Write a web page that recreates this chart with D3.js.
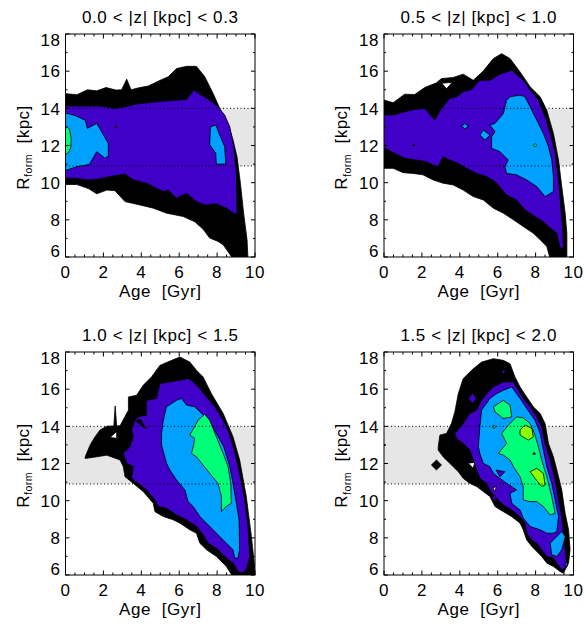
<!DOCTYPE html>
<html><head><meta charset="utf-8">
<script src="https://cdn.jsdelivr.net/npm/d3@7"></script>
<style>
body{margin:0;background:#fff}
text{font-family:"Liberation Sans",Arial,Helvetica,sans-serif;fill:#000;white-space:pre}
</style></head><body>
<svg id="c" width="587" height="626"></svg>
<script>
// ---------- axes / labels ----------
const xTicks = [0, 2, 4, 6, 8, 10];
const yTicks = [6, 8, 10, 12, 14, 16, 18];
const xDomain = [0, 10];
const yDomain = [6, 18];
const titles = ["0.0 < |z| [kpc] < 0.3", "0.5 < |z| [kpc] < 1.0", "1.0 < |z| [kpc] < 1.5", "1.5 < |z| [kpc] < 2.0"];
const xLabel = "Age  [Gyr]";
const band = [10.9, 14];
// level: -1 = hole(white), 0 black, 1 purple, 2 blue, 3 green, 4 yellow-green
const levelColors = {"-1": "#ffffff", "0": "#000000", "1": "#4000c8", "2": "#00a0ff", "3": "#00ff78", "4": "#8cff00"};

// ---------- panel 1 contours [age, Rform] ----------
const p1Black = [[-0.1,14.8],[0.6,14.73],[1.16,15.0],[1.65,14.94],[2.14,15.12],[2.67,14.98],[2.96,15.0],[3.23,15.57],[3.46,15.0],[3.93,15.12],[4.37,15.2],[4.89,15.46],[5.42,15.7],[5.86,16.14],[6.39,16.26],[6.91,16.26],[7.35,15.7],[7.79,14.8],[8.14,14.0],[8.58,13.19],[8.84,12.3],[9.05,11.4],[9.23,9.97],[9.4,8.36],[9.58,6.93],[9.63,5.9],[8.84,5.9],[8.32,6.66],[8.05,6.84],[7.61,7.02],[7.26,7.5],[6.82,7.9],[6.21,8.18],[5.33,8.36],[4.63,8.63],[3.93,8.8],[3.14,8.98],[2.61,9.57],[2.18,9.6],[1.65,9.4],[1.21,9.68],[0.6,9.9],[-0.1,9.9]];
const p1Purple = [[-0.1,14.12],[1.82,14.12],[2.61,13.99],[3.14,14.08],[3.75,14.23],[4.8,14.35],[5.86,14.44],[6.39,14.48],[6.77,14.98],[7.09,14.76],[7.61,14.44],[8.05,14.08],[8.4,13.64],[8.67,13.0],[8.88,11.94],[9.02,10.5],[9.05,8.36],[8.93,8.32],[8.49,8.63],[7.96,8.86],[7.35,8.8],[6.91,8.98],[6.39,9.43],[5.86,9.16],[5.42,9.6],[5.16,9.52],[4.8,9.7],[4.28,9.97],[3.58,10.15],[3.14,10.47],[2.35,10.33],[1.65,10.18],[1.12,10.15],[0.6,10.24],[-0.1,10.24]];
const p1BlueL = [[-0.1,13.76],[0.5,13.62],[1.05,13.35],[1.15,12.92],[1.65,13.19],[2.26,12.11],[2.26,11.45],[2.09,11.31],[1.65,11.67],[1.25,10.98],[0.6,10.86],[-0.1,10.62]];
const p1BlueR = [[7.65,13.0],[7.93,13.1],[8.1,12.65],[8.4,11.94],[8.46,11.0],[7.96,11.0],[7.93,11.58],[7.61,12.03]];
const p1Green = [[-0.1,13.1],[0.2,12.9],[0.3,12.4],[0.28,11.9],[0.15,11.6],[-0.1,11.45]];
const p1Dot = [[2.62,13.04],[2.7,13.04],[2.7,12.96],[2.62,12.96]];

// ---------- panel 2 ----------
const p2Black = [[-0.1,14.48],[0.48,14.3],[1.09,14.76],[1.62,14.74],[2.15,15.12],[2.77,15.37],[3.03,15.6],[3.65,15.66],[4.18,15.84],[4.71,15.51],[5.24,16.01],[5.77,16.68],[6.21,16.94],[6.65,16.68],[7.18,15.96],[7.71,15.16],[8.24,14.62],[8.59,13.9],[8.94,12.65],[9.21,11.22],[9.38,9.79],[9.56,8.36],[9.65,7.28],[9.65,5.9],[8.77,5.9],[8.59,6.57],[8.24,6.93],[7.88,7.28],[7.35,7.64],[6.83,8.0],[6.3,8.36],[5.77,8.63],[5.24,9.07],[4.71,9.25],[4.18,9.6],[3.65,9.88],[3.12,9.97],[2.59,10.15],[2.06,10.42],[1.53,10.5],[1.01,10.54],[0.48,10.77],[-0.1,10.77]];
const p2Hole = [[3.05,15.35],[3.6,15.4],[3.3,15.05]];
const p2Purple = [[-0.1,13.64],[0.48,13.64],[1.09,13.81],[1.62,13.94],[2.15,13.99],[2.68,13.37],[3.03,13.99],[3.47,14.53],[3.83,14.62],[4.18,14.89],[4.62,15.01],[5.06,15.51],[5.59,15.51],[6.12,15.84],[6.74,16.05],[7.35,15.51],[7.71,14.98],[8.15,14.44],[8.5,13.55],[8.77,12.65],[9.03,11.58],[9.21,10.15],[9.33,8.72],[9.44,7.28],[9.47,6.48],[9.3,6.48],[9.12,7.28],[8.68,7.64],[8.41,7.91],[7.97,8.18],[7.44,8.54],[7.0,9.07],[6.47,9.34],[5.86,10.06],[5.41,10.33],[4.89,10.5],[4.36,10.77],[3.92,11.04],[3.47,11.22],[3.12,11.4],[2.86,10.86],[2.59,10.95],[2.24,11.13],[1.71,11.22],[1.09,11.31],[0.56,11.58],[-0.1,11.94]];
const p2Blue = [[6.65,14.62],[7.18,14.71],[7.44,14.62],[7.71,14.08],[8.06,13.37],[8.41,12.65],[8.68,11.94],[8.85,11.22],[8.94,10.33],[8.94,9.52],[8.5,9.25],[8.06,9.79],[7.53,10.15],[7.0,10.42],[6.47,10.5],[6.38,10.86],[6.56,11.22],[6.12,11.67],[5.68,11.85],[5.68,12.47],[5.86,12.74],[5.59,13.1],[5.86,13.19],[6.3,13.72],[6.47,14.44]];
const p2BlueDiamondA = [[4.1,13.04],[4.27,13.18],[4.45,13.04],[4.27,12.9]];
const p2BlueDiamondB = [[5.06,12.56],[5.24,12.83],[5.59,12.56],[5.33,12.29]];
const p2GreenDot = [[7.88,12.02],[7.97,12.11],[8.06,12.02],[7.97,11.93]];
const p2BlackDot = [[1.5,12.02],[1.57,12.07],[1.64,12.02],[1.57,11.97]];

// ---------- panel 3 ----------
const p3Black = [[1.04,12.36],[1.3,13.0],[1.56,13.44],[1.82,13.8],[2.18,14.01],[2.88,14.03],[3.32,14.87],[3.32,15.58],[3.75,15.67],[4.1,16.21],[4.54,16.66],[4.98,17.28],[5.6,17.55],[6.04,17.73],[6.56,17.46],[6.91,17.02],[7.26,16.66],[7.7,15.76],[8.32,14.69],[8.84,13.44],[9.19,12.19],[9.54,10.22],[9.81,8.07],[9.98,6.46],[10.0,5.9],[8.84,5.9],[8.49,6.46],[7.96,7.0],[7.44,7.36],[7.09,7.71],[6.91,8.25],[6.56,8.43],[6.04,8.79],[5.68,8.97],[5.16,9.15],[4.72,9.41],[4.63,9.86],[4.1,10.49],[3.58,10.93],[3.14,11.29],[3.05,11.83],[2.88,12.19],[2.18,12.45],[1.65,12.36],[1.04,12.27]];
const p3Spike = [[2.55,14.0],[2.62,15.1],[2.7,14.0],[2.65,13.7]];
const p3Hole = [[2.35,13.4],[2.7,13.72],[2.7,13.36]];
const p3Purple = [[3.67,14.33],[3.84,14.51],[4.28,14.6],[4.28,15.4],[4.8,15.5],[4.98,16.3],[5.51,16.39],[6.04,16.48],[6.47,16.57],[6.74,16.39],[7.09,16.03],[7.44,15.58],[7.88,15.05],[8.32,14.33],[8.67,13.53],[8.93,12.63],[9.19,11.47],[9.46,10.04],[9.63,8.61],[9.72,7.0],[9.54,6.28],[9.28,6.1],[9.12,6.19],[8.84,6.64],[8.49,6.91],[7.96,7.45],[7.53,7.71],[7.26,8.16],[6.91,8.61],[6.39,8.97],[5.86,9.23],[5.33,9.59],[4.89,9.68],[4.72,10.04],[4.28,10.58],[3.84,10.93],[3.49,11.2],[3.58,11.83],[3.23,12.01],[3.05,12.54],[3.4,12.9],[3.58,13.44],[3.49,13.8]];
const p3Tongue = [[3.7,14.3],[4.25,13.85],[3.95,14.4]];
const p3Blue = [[5.33,15.05],[5.86,15.4],[6.12,15.5],[6.39,15.14],[6.82,15.05],[7.18,14.69],[7.53,14.33],[7.96,13.62],[8.35,12.9],[8.67,11.83],[8.84,10.93],[9.02,9.86],[9.16,8.96],[9.19,7.36],[9.1,6.91],[8.93,6.91],[8.84,7.36],[8.49,7.71],[8.14,8.07],[7.79,8.43],[7.44,8.79],[7.09,9.15],[6.74,9.68],[6.47,9.95],[6.3,10.58],[5.86,11.11],[5.51,11.65],[5.33,12.01],[5.07,12.99],[5.07,13.62],[5.16,14.33]];
const p3Green = [[6.56,13.53],[7.0,14.33],[7.35,14.65],[7.61,14.33],[7.96,13.44],[8.32,12.54],[8.58,11.83],[8.72,10.93],[8.75,9.86],[8.49,9.7],[8.23,9.41],[8.23,10.22],[8.05,10.93],[7.61,11.47],[7.26,11.92],[6.91,12.36],[6.65,12.54],[6.74,12.9],[6.82,13.35]];

// ---------- panel 4 ----------
const p4Black = [[2.86,12.9],[2.95,13.53],[3.3,13.62],[3.56,14.15],[3.74,14.78],[3.92,15.76],[4.18,16.57],[4.36,16.75],[4.62,17.02],[5.15,17.46],[5.77,17.64],[6.3,17.55],[6.65,17.37],[6.91,16.66],[7.18,16.12],[7.53,15.58],[7.88,15.05],[8.24,14.69],[8.5,14.15],[8.68,13.08],[8.94,12.36],[9.12,11.65],[9.38,10.58],[9.56,9.32],[9.74,8.43],[9.82,7.36],[9.74,6.64],[9.47,6.1],[9.29,6.19],[8.94,6.46],[8.59,6.64],[8.32,7.0],[8.06,7.27],[7.8,7.54],[7.53,7.89],[7.35,8.43],[7.18,8.79],[6.74,9.14],[6.3,9.41],[5.86,9.68],[5.59,10.22],[5.24,10.49],[4.89,10.76],[4.53,10.93],[4.18,11.2],[3.92,11.56],[3.47,12.01],[3.12,12.36],[2.86,12.72]];
const p4BlackDiamond = [[2.5,11.92],[2.77,12.19],[3.03,11.92],[2.77,11.65]];
const p4BlackEdge = [[-0.1,13.08],[0.08,12.99],[-0.1,12.9]];
const p4Hole = [[4.45,12.02],[4.8,12.06],[4.7,11.75]];
const p4Purple = [[3.74,13.62],[4.18,14.15],[4.53,14.69],[4.89,14.87],[5.15,15.4],[5.41,15.76],[5.77,16.12],[6.3,16.39],[6.83,16.39],[7.09,15.94],[7.35,15.5],[7.71,15.05],[8.06,14.51],[8.32,13.97],[8.5,13.08],[8.77,12.19],[9.03,11.11],[9.21,10.04],[9.38,9.14],[9.47,8.25],[9.56,7.36],[9.65,6.46],[9.38,6.28],[9.12,6.64],[8.94,6.91],[8.59,7.0],[8.32,7.36],[8.06,7.71],[7.8,7.89],[7.53,8.25],[7.44,8.79],[7.18,9.14],[6.74,9.5],[6.3,9.77],[6.03,10.04],[5.77,10.31],[5.59,10.58],[5.41,10.93],[5.06,11.2],[4.89,11.65],[4.71,12.19],[4.53,12.72],[4.18,13.08],[3.83,13.35]];
const p4PurpleDiamond = [[4.45,15.5],[4.67,15.77],[4.89,15.5],[4.67,15.23]];
const p4PurpleTop = [[6.17,17.02],[6.44,17.02],[6.3,16.8]];
const p4Blue = [[4.98,12.9],[5.06,13.97],[5.15,14.87],[5.59,15.5],[5.94,15.76],[6.3,15.94],[6.74,16.12],[7.18,15.5],[7.53,14.96],[7.97,14.33],[8.24,13.62],[8.41,12.72],[8.59,11.83],[8.85,10.93],[9.03,10.04],[9.21,9.14],[9.12,8.34],[8.94,8.25],[8.59,8.25],[8.24,8.43],[7.71,8.61],[7.35,9.06],[7.18,9.5],[6.74,9.86],[6.65,10.4],[7.0,10.58],[6.47,10.93],[6.12,11.2],[5.77,11.47],[5.59,11.83],[5.24,12.01],[5.06,12.54]];
const p4PurpleIn = [[5.91,11.65],[6.38,11.56],[6.12,11.29]];
const p4PurpleIn2 = [[5.68,10.13],[5.86,10.31],[5.94,9.95]];
const p4HoleIn = [[5.75,10.7],[5.92,10.75],[5.85,10.5]];
const p4BlueSmall = [[8.77,7.71],[9.38,8.34],[9.56,8.07],[9.38,7.36],[9.12,7.0],[8.85,7.09]];
const p4BlueTiny = [[9.55,6.5],[9.62,6.72],[9.7,6.5]];
const p4GreenIsland = [[5.77,15.05],[6.3,15.4],[6.65,15.14],[6.74,14.51],[6.3,14.42],[5.86,14.78]];
const p4GreenMain = [[6.21,13.62],[6.6,14.1],[7.0,14.51],[7.35,14.45],[7.71,14.15],[7.97,13.53],[8.15,12.9],[8.32,12.19],[8.59,11.29],[8.85,10.22],[9.03,9.32],[8.77,9.23],[8.41,9.68],[8.06,9.95],[7.71,9.95],[7.35,10.04],[7.35,10.76],[7.18,11.29],[6.83,11.83],[6.65,12.19],[6.3,12.45],[6.03,12.54],[6.47,13.08]];
const p4GreenTiny = [[5.72,13.97],[5.8,14.07],[5.88,13.97],[5.8,13.87]];
const p4YellowA = [[7.18,13.8],[7.44,14.07],[7.8,13.89],[7.88,13.44],[7.62,13.26],[7.18,13.53]];
const p4YellowB = [[7.71,11.56],[8.06,11.74],[8.41,11.47],[8.5,10.85],[8.32,10.76],[7.97,11.2]];
const p4Dot = [[7.85,12.5],[7.92,12.6],[7.99,12.5]];

// ---------- assemble ----------
const panelShapes = [
  [[0,p1Black],[1,p1Purple],[2,p1BlueL],[2,p1BlueR],[3,p1Green],[0,p1Dot]],
  [[0,p2Black],[-1,p2Hole],[1,p2Purple],[0,p2BlackDot],[2,p2Blue],[2,p2BlueDiamondA],[2,p2BlueDiamondB],[3,p2GreenDot]],
  [[0,p3Black],[0,p3Spike],[-1,p3Hole],[1,p3Purple],[0,p3Tongue],[2,p3Blue],[3,p3Green]],
  [[0,p4Black],[0,p4BlackDiamond],[0,p4BlackEdge],[-1,p4Hole],[1,p4Purple],[1,p4PurpleDiamond],[1,p4PurpleTop],[2,p4Blue],[1,p4PurpleIn],[1,p4PurpleIn2],[-1,p4HoleIn],[2,p4BlueSmall],[2,p4BlueTiny],[3,p4GreenIsland],[3,p4GreenMain],[3,p4GreenTiny],[4,p4YellowA],[4,p4YellowB],[0,p4Dot]]
];
const panelBoxes = [
  {left: 65.5, top: 34, width: 189.5, height: 223},
  {left: 384, top: 34, width: 189.5, height: 223},
  {left: 65.5, top: 352, width: 189.5, height: 223},
  {left: 384, top: 352, width: 189.5, height: 223}
];

const svg = d3.select("#c");
const xMinor = d3.range(0, 10.001, 0.5);
const yMinor = d3.range(6, 18.001, 1);
const FS = 17;

panelBoxes.forEach((b, i) => {
  const x = d3.scaleLinear().domain(xDomain).range([b.left, b.left + b.width]);
  const y = d3.scaleLinear().domain(yDomain).range([b.top + b.height, b.top]);
  const g = svg.append("g");
  const clipId = "clip" + i;
  g.append("clipPath").attr("id", clipId).append("rect")
    .attr("x", b.left).attr("y", b.top).attr("width", b.width).attr("height", b.height);
  const inner = g.append("g").attr("clip-path", `url(#${clipId})`);
  // grey band
  inner.append("rect").attr("x", x(0)).attr("width", x(10) - x(0))
    .attr("y", y(band[1])).attr("height", y(band[0]) - y(band[1])).attr("fill", "#e6e6e6");
  const line = d3.line().x(d => x(d[0])).y(d => y(d[1]));
  panelShapes[i].forEach(([lvl, pts]) => {
    inner.append("path").attr("d", line(pts) + "Z")
      .attr("fill", levelColors[lvl]).attr("stroke", "#000").attr("stroke-width", 0.8)
      .attr("stroke-linejoin", "round");
  });
  // dotted band limits
  band.forEach(v => {
    inner.append("line").attr("x1", x(0)).attr("x2", x(10)).attr("y1", y(v)).attr("y2", y(v))
      .attr("stroke", "#000").attr("stroke-width", 1).attr("stroke-dasharray", "1,2.5");
  });
  // frame
  g.append("rect").attr("x", b.left).attr("y", b.top).attr("width", b.width).attr("height", b.height)
    .attr("fill", "none").attr("stroke", "#000").attr("stroke-width", 1);
  // ticks
  const tk = g.append("g").attr("stroke", "#000").attr("stroke-width", 1);
  xMinor.forEach(v => {
    const major = Math.abs(v / 2 - Math.round(v / 2)) < 1e-6;
    const L = major ? 4.5 : 2.5;
    tk.append("line").attr("x1", x(v)).attr("x2", x(v)).attr("y1", y(6)).attr("y2", y(6) - L);
    tk.append("line").attr("x1", x(v)).attr("x2", x(v)).attr("y1", y(18)).attr("y2", y(18) + L);
  });
  yMinor.forEach(v => {
    const major = v % 2 === 0;
    const L = major ? 4 : 2;
    tk.append("line").attr("x1", x(0)).attr("x2", x(0) + L).attr("y1", y(v)).attr("y2", y(v));
    tk.append("line").attr("x1", x(10)).attr("x2", x(10) - L).attr("y1", y(v)).attr("y2", y(v));
  });
  // tick labels
  xTicks.forEach(v => {
    g.append("text").attr("x", x(v)).attr("y", y(6) + 21).attr("text-anchor", "middle")
      .attr("font-size", FS).attr("letter-spacing", 0.5).text(v);
  });
  yTicks.forEach(v => {
    let yy = y(v) + 6.2;
    if (v === 18) yy = y(18) + 12.3;
    if (v === 6) yy = y(6) - 0.5;
    g.append("text").attr("x", x(0) - 5).attr("y", yy).attr("text-anchor", "end")
      .attr("font-size", FS).attr("letter-spacing", 0.5).text(v);
  });
  // titles
  g.append("text").attr("x", b.left + b.width / 2).attr("y", b.top - 11).attr("text-anchor", "middle")
    .attr("font-size", FS).attr("letter-spacing", 0.6).text(titles[i]);
  g.append("text").attr("x", b.left + b.width / 2).attr("y", y(6) + 40).attr("text-anchor", "middle")
    .attr("font-size", FS).attr("letter-spacing", 0.6).text(xLabel);
  const yl = g.append("text").attr("transform", `translate(${b.left - 37},${b.top + b.height / 2 + 2}) rotate(-90)`)
    .attr("text-anchor", "middle").attr("font-size", FS).attr("letter-spacing", 0.5);
  yl.append("tspan").text("R");
  yl.append("tspan").attr("font-size", 10.5).attr("dy", 3.5).text("form");
  yl.append("tspan").attr("dy", -3.5).text("  [kpc]");
});
</script>
</body></html>
